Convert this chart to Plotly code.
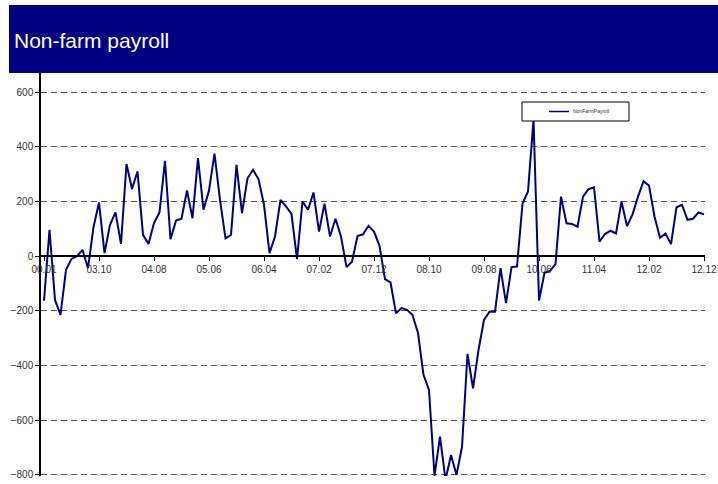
import plotly.graph_objects as go

# ---- data ----
payroll = [
    -163, 96, -160, -215, -50, -10, 0, 23, -44, 106,
    196, 11, 115, 160, 45, 337, 246, 310, 78, 45,
    121, 160, 349, 62, 130, 137, 240, 139, 359, 170,
    240, 375, 206, 65, 78, 334, 157, 285, 316, 282,
    188, 11, 72, 206, 182, 155, -11, 200, 170, 233,
    90, 192, 72, 137, 72, -40, -20, 74, 80, 111,
    90, 38, -84, -96, -209, -190, -196, -215, -281, -434,
    -489, -803, -660, -818, -727, -800, -697, -357, -483, -343,
    -233, -203, -203, -44, -172, -40, -38, 192, 237, 500,
    -162, -61, -54, -29, 218, 120, 118, 108, 218, 245,
    252, 53, 81, 93, 83, 200, 110, 153, 218, 274,
    258, 145, 67, 83, 44, 179, 188, 133, 137, 160,
    153,
]
tick_positions = [0, 10, 20, 30, 40, 50, 60, 70, 80, 90, 100, 110, 120]
tick_labels = ["00.01", "03.10", "04.08", "05.06", "06.04", "07.02", "07.12",
               "08.10", "09.08", "10.06", "11.04", "12.02", "12.12"]
y_ticks = [600, 400, 200, 0, -200, -400, -600, -800]
series_name = "NonFarmPayroll"
chart_title = "Non-farm payroll"

# ---- geometry helpers (pixel -> paper) ----
W, H = 718, 484
ML, MR, MT, MB = 41, 13, 73, 8
PW, PH = W - ML - MR, H - MT - MB
Y_MIN, Y_MAX = -804, 670


def px(x):
    return (x - ML) / PW


def py(y):
    return (H - MB - y) / PH


navy = "#000080"
font_family = "Liberation Sans, Arial, sans-serif"

fig = go.Figure()
fig.add_trace(go.Scatter(
    x=list(range(len(payroll))), y=payroll, mode="lines",
    name=series_name, line=dict(color=navy, width=2),
    showlegend=False, cliponaxis=True,
))

fig.update_layout(
    width=W, height=H,
    margin=dict(l=ML, r=MR, t=MT, b=MB, pad=0, autoexpand=False),
    paper_bgcolor="white", plot_bgcolor="white",
    font=dict(family=font_family, size=10, color="#333333"),
    showlegend=False,
    xaxis=dict(
        range=[-0.545, 120.18], anchor="free", automargin=False,
        position=(0 - Y_MIN) / (Y_MAX - Y_MIN),
        showgrid=False, zeroline=False,
        showline=True, linecolor="black", linewidth=1.5,
        tickmode="array", tickvals=tick_positions, ticktext=tick_labels,
        ticks="outside", ticklen=4, tickcolor="black", tickwidth=1,
        tickfont=dict(size=10, color="#333333"),
    ),
    yaxis=dict(
        range=[Y_MIN, Y_MAX], automargin=False,
        tickmode="array", tickvals=y_ticks,
        showgrid=True, gridcolor="#555555", gridwidth=1, griddash="6px,4px",
        zeroline=False,
        showline=True, linecolor="black", linewidth=1.5,
        ticks="outside", ticklen=4, tickcolor="black", tickwidth=1,
        tickfont=dict(size=10, color="#333333"),
    ),
    shapes=[
        # title banner
        dict(type="rect", xref="paper", yref="paper",
             x0=px(9), x1=px(720), y0=py(73), y1=py(5),
             fillcolor=navy, line=dict(width=0), layer="above"),
        # legend box
        dict(type="rect", xref="paper", yref="paper",
             x0=px(522), x1=px(629), y0=py(121), y1=py(102),
             fillcolor="white", line=dict(color="black", width=1), layer="above"),
        # legend line sample
        dict(type="line", xref="paper", yref="paper",
             x0=px(549), x1=px(569), y0=py(111.5), y1=py(111.5),
             line=dict(color=navy, width=1.5), layer="above"),
    ],
    annotations=[
        dict(text=chart_title, xref="paper", yref="paper",
             x=px(12), y=py(41), xanchor="left", yanchor="middle",
             showarrow=False, font=dict(size=21, color="white", family=font_family)),
        dict(text=series_name, xref="paper", yref="paper",
             x=px(571), y=py(111.5), xanchor="left", yanchor="middle",
             showarrow=False, font=dict(size=5, color="#333333", family=font_family)),
    ],
)

fig.write_html(
    "out.html",
    config={"displayModeBar": False, "responsive": False},
    post_script="document.body.style.margin='0';",
)
